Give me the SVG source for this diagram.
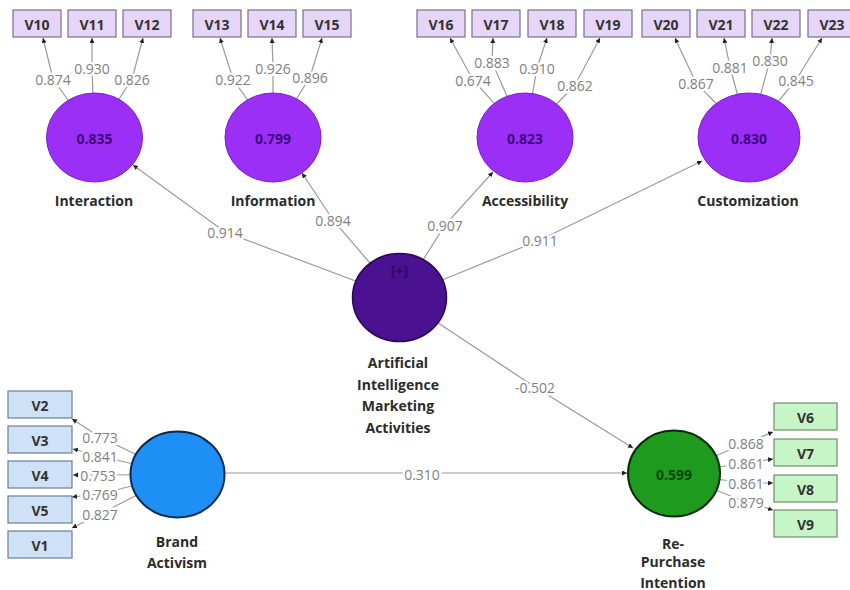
<svg xmlns="http://www.w3.org/2000/svg" width="850" height="590" viewBox="0 0 850 590">
<defs>
<marker id="ah" markerUnits="userSpaceOnUse" markerWidth="6" markerHeight="6" refX="5" refY="2.5" orient="auto">
<path d="M0,0 L5,2.5 L0,5 z" fill="#222"/>
</marker>
<style>
.c{fill:none;stroke:#9a9a9a;stroke-width:1.2;marker-end:url(#ah)}
.l{font-family:"Open Sans","Liberation Sans",sans-serif;font-size:14px;fill:#808080;text-anchor:middle;dominant-baseline:central;paint-order:stroke;stroke:#fff;stroke-width:5px;stroke-linejoin:round}
.bt{font-family:"Open Sans","Liberation Sans",sans-serif;font-size:14px;font-weight:bold;fill:#333;text-anchor:middle;dominant-baseline:central}
.pb{fill:#e5d6f7;stroke:#7b6d8c;stroke-width:1.2}
.bb{fill:#cfe1f6;stroke:#6a7f96;stroke-width:1.2}
.gb{fill:#c8f5c8;stroke:#6a8f6a;stroke-width:1.2}
.nm{font-family:"Open Sans","Liberation Sans",sans-serif;font-size:14px;font-weight:bold;fill:#2b2b2b;text-anchor:middle;dominant-baseline:central}
.pc{fill:#9b2ff5;stroke:#7a1fd0;stroke-width:1}
.cv{font-family:"Open Sans","Liberation Sans",sans-serif;font-size:14px;font-weight:bold;text-anchor:middle;dominant-baseline:central}
</style>
</defs>
<rect width="850" height="590" fill="#fff"/>
<g id="connectors">
<polyline class="c" points="94.5,137 53,79 43,38"/>
<polyline class="c" points="94.5,137 92,68 92,38"/>
<polyline class="c" points="94.5,137 132,79 143,38"/>
<polyline class="c" points="273,137 233,79 220,38"/>
<polyline class="c" points="273,137 273,68 272,38"/>
<polyline class="c" points="273,137 310,77 322,38"/>
<polyline class="c" points="525,137 473,80 450,38"/>
<polyline class="c" points="525,137 492,62 493,38"/>
<polyline class="c" points="525,137 537,68 547,38"/>
<polyline class="c" points="525,137 575,85 600,38"/>
<polyline class="c" points="749,137 696,83 675,38"/>
<polyline class="c" points="749,137 730,67 724,38"/>
<polyline class="c" points="749,137 770,60 772,38"/>
<polyline class="c" points="749,137 796,80 822,38"/>
<polyline class="c" points="177.5,474.5 100,437 72,419"/>
<polyline class="c" points="177.5,474.5 100,456 73,449"/>
<polyline class="c" points="177.5,474.5 98,475 73,475"/>
<polyline class="c" points="177.5,474.5 100,494 72,497"/>
<polyline class="c" points="177.5,474.5 100,514 72,528"/>
<polyline class="c" points="674,473.5 746,443 773,432"/>
<polyline class="c" points="674,473.5 746,463 773,459"/>
<polyline class="c" points="674,473.5 746,483 773,483"/>
<polyline class="c" points="674,473.5 746,502 773,510"/>
<polyline class="c" points="399.5,297.5 225,232 133,165"/>
<polyline class="c" points="399.5,297.5 333,220 302,173"/>
<polyline class="c" points="399.5,297.5 445,225 493,172"/>
<polyline class="c" points="399.5,297.5 540,240 702,161"/>
<polyline class="c" points="399.5,297.5 535,387 633,448"/>
<polyline class="c" points="177.5,473 422,473 627,473"/>
<text class="l" x="53" y="79">0.874</text>
<text class="l" x="92" y="68">0.930</text>
<text class="l" x="132" y="79">0.826</text>
<text class="l" x="233" y="79">0.922</text>
<text class="l" x="273" y="68">0.926</text>
<text class="l" x="310" y="77">0.896</text>
<text class="l" x="473" y="80">0.674</text>
<text class="l" x="492" y="62">0.883</text>
<text class="l" x="537" y="68">0.910</text>
<text class="l" x="575" y="85">0.862</text>
<text class="l" x="696" y="83">0.867</text>
<text class="l" x="730" y="67">0.881</text>
<text class="l" x="770" y="60">0.830</text>
<text class="l" x="796" y="80">0.845</text>
<text class="l" x="100" y="437">0.773</text>
<text class="l" x="100" y="456">0.841</text>
<text class="l" x="98" y="475">0.753</text>
<text class="l" x="100" y="494">0.769</text>
<text class="l" x="100" y="514">0.827</text>
<text class="l" x="746" y="443">0.868</text>
<text class="l" x="746" y="463">0.861</text>
<text class="l" x="746" y="483">0.861</text>
<text class="l" x="746" y="502">0.879</text>
<text class="l" x="225" y="232">0.914</text>
<text class="l" x="333" y="220">0.894</text>
<text class="l" x="445" y="225">0.907</text>
<text class="l" x="540" y="240">0.911</text>
<text class="l" x="535" y="387">-0.502</text>
<text class="l" x="422" y="474">0.310</text>
</g>
<g id="V10"><rect class="pb" x="13" y="10" width="48" height="27"/><text class="bt" x="37" y="24">V10</text></g>
<g id="V11"><rect class="pb" x="68" y="10" width="48" height="27"/><text class="bt" x="92" y="24">V11</text></g>
<g id="V12"><rect class="pb" x="123" y="10" width="48" height="27"/><text class="bt" x="147" y="24">V12</text></g>
<g id="V13"><rect class="pb" x="193" y="10" width="48" height="27"/><text class="bt" x="217" y="24">V13</text></g>
<g id="V14"><rect class="pb" x="248" y="10" width="48" height="27"/><text class="bt" x="272" y="24">V14</text></g>
<g id="V15"><rect class="pb" x="303" y="10" width="48" height="27"/><text class="bt" x="327" y="24">V15</text></g>
<g id="V16"><rect class="pb" x="417" y="10" width="48" height="27"/><text class="bt" x="441" y="24">V16</text></g>
<g id="V17"><rect class="pb" x="472" y="10" width="48" height="27"/><text class="bt" x="496" y="24">V17</text></g>
<g id="V18"><rect class="pb" x="528" y="10" width="48" height="27"/><text class="bt" x="552" y="24">V18</text></g>
<g id="V19"><rect class="pb" x="584" y="10" width="48" height="27"/><text class="bt" x="608" y="24">V19</text></g>
<g id="V20"><rect class="pb" x="642" y="10" width="48" height="27"/><text class="bt" x="666" y="24">V20</text></g>
<g id="V21"><rect class="pb" x="697" y="10" width="48" height="27"/><text class="bt" x="721" y="24">V21</text></g>
<g id="V22"><rect class="pb" x="752" y="10" width="48" height="27"/><text class="bt" x="776" y="24">V22</text></g>
<g id="V23"><rect class="pb" x="808" y="10" width="48" height="27"/><text class="bt" x="832" y="24">V23</text></g>
<g id="V2"><rect class="bb" x="8" y="391" width="64" height="27"/><text class="bt" x="40" y="405">V2</text></g>
<g id="V3"><rect class="bb" x="8" y="426" width="64" height="27"/><text class="bt" x="40" y="440">V3</text></g>
<g id="V4"><rect class="bb" x="8" y="461" width="64" height="27"/><text class="bt" x="40" y="475">V4</text></g>
<g id="V5"><rect class="bb" x="8" y="496" width="64" height="27"/><text class="bt" x="40" y="510">V5</text></g>
<g id="V1"><rect class="bb" x="8" y="531" width="64" height="27"/><text class="bt" x="40" y="545">V1</text></g>
<g id="V6"><rect class="gb" x="774" y="403" width="63" height="27"/><text class="bt" x="805.5" y="417">V6</text></g>
<g id="V7"><rect class="gb" x="774" y="439" width="63" height="27"/><text class="bt" x="805.5" y="453">V7</text></g>
<g id="V8"><rect class="gb" x="774" y="475" width="63" height="27"/><text class="bt" x="805.5" y="489">V8</text></g>
<g id="V9"><rect class="gb" x="774" y="510" width="63" height="27"/><text class="bt" x="805.5" y="524">V9</text></g>
<g id="Interaction"><ellipse class="pc" cx="94.5" cy="137.5" rx="48" ry="44.5"/><text class="cv" x="94.5" y="138" fill="#3d0b7a">0.835</text><text class="nm" x="94" y="200">Interaction</text></g>
<g id="Information"><ellipse class="pc" cx="273" cy="137.5" rx="48" ry="44.5"/><text class="cv" x="273" y="138" fill="#3d0b7a">0.799</text><text class="nm" x="273" y="200">Information</text></g>
<g id="Accessibility"><ellipse class="pc" cx="525" cy="137.5" rx="48" ry="44.5"/><text class="cv" x="525" y="138" fill="#3d0b7a">0.823</text><text class="nm" x="525" y="200">Accessibility</text></g>
<g id="Customization"><ellipse class="pc" cx="749" cy="137.5" rx="51" ry="44.5"/><text class="cv" x="749" y="138" fill="#3d0b7a">0.830</text><text class="nm" x="748" y="200">Customization</text></g>
<g id="AIMA"><ellipse cx="399.5" cy="297.5" rx="47" ry="44" fill="#4a1290" stroke="#2a0656" stroke-width="1.5"/><text class="cv" x="399.5" y="270" fill="#2e0a66" font-size="11" font-weight="normal">[+]</text><text class="nm" x="398" y="362">Artificial</text><text class="nm" x="398" y="384">Intelligence</text><text class="nm" x="398" y="405">Marketing</text><text class="nm" x="398" y="427">Activities</text></g>
<g id="BrandActivism"><ellipse cx="177.5" cy="474.5" rx="47" ry="43" fill="#1e8ff5" stroke="#0d2b4d" stroke-width="2"/><text class="nm" x="177" y="541">Brand</text><text class="nm" x="177" y="562">Activism</text></g>
<g id="RePurchase"><ellipse cx="674" cy="473.5" rx="46" ry="43" fill="#1e9a1e" stroke="#0b2b0b" stroke-width="2"/><text class="cv" x="674" y="474" fill="#0c470c">0.599</text><text class="nm" x="673" y="543">Re-</text><text class="nm" x="673" y="561">Purchase</text><text class="nm" x="673" y="582">Intention</text></g>
</svg>
